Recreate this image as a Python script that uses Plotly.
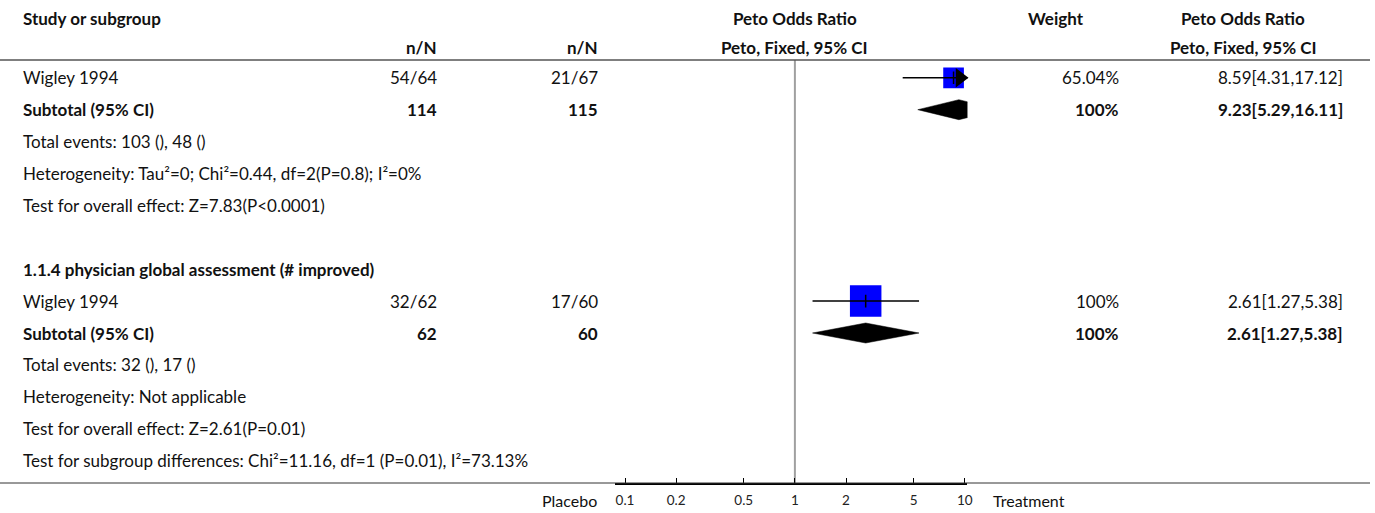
import plotly.graph_objects as go
import math

W, H = 1375, 513

# ---------------- data ----------------
group_titles = ["", "1.1.4 physician global assessment (# improved)"]
study_names = ["Wigley 1994", "Wigley 1994"]
study_treat = ["54/64", "32/62"]
study_ctrl = ["21/67", "17/60"]
study_weight = [65.04, 100.0]
study_or = [8.59, 2.61]
study_lo = [4.31, 1.27]
study_hi = [17.12, 5.38]

sub_treat = ["114", "62"]
sub_ctrl = ["115", "60"]
sub_weight = [100, 100]
sub_or = [9.23, 2.61]
sub_lo = [5.29, 1.27]
sub_hi = [16.11, 5.38]

total_events = ["Total events: 103 (), 48 ()", "Total events: 32 (), 17 ()"]
heterogeneity = ["Heterogeneity: Tau\u00b2=0; Chi\u00b2=0.44, df=2(P=0.8); I\u00b2=0%",
                 "Heterogeneity: Not applicable"]
overall_effect = ["Test for overall effect: Z=7.83(P<0.0001)",
                  "Test for overall effect: Z=2.61(P=0.01)"]
subgroup_diff = "Test for subgroup differences: Chi\u00b2=11.16, df=1 (P=0.01), I\u00b2=73.13%"

tick_vals = [0.1, 0.2, 0.5, 1, 2, 5, 10]
tick_text = ["0.1", "0.2", "0.5", "1", "2", "5", "10"]
left_label = "Placebo"
right_label = "Treatment"

# ---------------- layout constants ----------------
FONT = "Lato"
FS = 17
TXT = "#111111"
ROW_H = 31.9
ROW0_PX = 14.0
HDR1_PX, HDR2_PX = 18.0, 47.0
AXIS_PX = 483.0
HEADER_LINE_PX = 60.0
X_LEFT_PX, X_RIGHT_PX = 617.0, 971.0
ONE_PX = 797.8
PPD = 170.5  # pixels per decade

xmin_log = (X_LEFT_PX - ONE_PX) / PPD
xmax_log = (X_RIGHT_PX - ONE_PX) / PPD
y_top = -ROW0_PX / ROW_H
y_bot = (AXIS_PX - ROW0_PX) / ROW_H

COL_LEFT = 21
COL_T = 441
COL_C = 602
COL_W = 1125
COL_OR = 1350
HDR_W = 1060
HDR_OR = 1248

fig = go.Figure()
ann = []


def text(x_px, k, s, anchor="left", bold=False, size=FS):
    if bold:
        s = "<b>" + s + "</b>"
    ann.append(dict(x=x_px / W, xref="paper", y=k, yref="y", text=s,
                    xanchor=anchor, yanchor="middle", showarrow=False,
                    font=dict(family=FONT, size=size, color=TXT)))


# header
k_h1 = (HDR1_PX - ROW0_PX) / ROW_H
k_h2 = (HDR2_PX - ROW0_PX) / ROW_H
text(COL_LEFT, k_h1, "Study or subgroup", bold=True)
text(ONE_PX, k_h1, "Peto Odds Ratio", "center", True)
text(HDR_W, k_h1, "Weight", "center", True)
text(HDR_OR, k_h1, "Peto Odds Ratio", "center", True)
text(COL_T, k_h2, "n/N", "right", True)
text(COL_C, k_h2, "n/N", "right", True)
text(ONE_PX, k_h2, "Peto, Fixed, 95% CI", "center", True)
text(HDR_OR, k_h2, "Peto, Fixed, 95% CI", "center", True)


def fmt_ci(e, lo, hi):
    return f"{e:.2f}[{lo:.2f},{hi:.2f}]"


def fmt_w(w):
    return f"{w:.2f}%" if w != int(w) else f"{int(w)}%"


def add_ci_marks(k, e, lo, hi, w):
    fig.add_trace(go.Scatter(x=[e], y=[k], mode="markers",
                             marker=dict(symbol="square", size=31 * w / 100 + 0.5,
                                         color="#0000ff", line=dict(width=0)),
                             hoverinfo="skip"))
    fig.add_trace(go.Scatter(x=[lo, hi], y=[k, k], mode="lines",
                             line=dict(color="#000000", width=1.5), hoverinfo="skip"))
    if math.log10(e) < xmax_log:
        fig.add_trace(go.Scatter(x=[e], y=[k], mode="markers",
                                 marker=dict(symbol="line-ns", size=9,
                                             line=dict(color="#000000", width=1.5)),
                                 hoverinfo="skip"))
    if math.log10(hi) > xmax_log:
        fig.add_trace(go.Scatter(x=[10 ** (xmax_log - 7.5 / PPD)], y=[k], mode="markers",
                                 marker=dict(symbol="triangle-right", size=17,
                                             color="#000000", line=dict(width=0)),
                                 hoverinfo="skip", cliponaxis=False))


def add_diamond(k, e, lo, hi):
    h = 10.0 / ROW_H
    fig.add_trace(go.Scatter(x=[lo, e, hi, e, lo], y=[k, k - h, k, k + h, k],
                             mode="lines", fill="toself", fillcolor="#000000",
                             line=dict(color="#000000", width=0.5), hoverinfo="skip"))


k = 2
for g in range(len(study_names)):
    if group_titles[g]:
        text(COL_LEFT, k, group_titles[g], bold=True)
        k += 1
    text(COL_LEFT, k, study_names[g])
    text(COL_T, k, study_treat[g], "right")
    text(COL_C, k, study_ctrl[g], "right")
    text(COL_W, k, fmt_w(study_weight[g]), "right")
    text(COL_OR, k, fmt_ci(study_or[g], study_lo[g], study_hi[g]), "right")
    add_ci_marks(k, study_or[g], study_lo[g], study_hi[g], study_weight[g])
    k += 1
    text(COL_LEFT, k, "Subtotal (95% CI)", bold=True)
    text(COL_T, k, sub_treat[g], "right", True)
    text(COL_C, k, sub_ctrl[g], "right", True)
    text(COL_W, k, fmt_w(sub_weight[g]), "right", True)
    text(COL_OR, k, fmt_ci(sub_or[g], sub_lo[g], sub_hi[g]), "right", True)
    add_diamond(k, sub_or[g], sub_lo[g], sub_hi[g])
    k += 1
    for s in (total_events[g], heterogeneity[g], overall_effect[g]):
        text(COL_LEFT, k, s)
        k += 1
    if g < len(study_names) - 1:
        k += 1  # blank row
text(COL_LEFT, k, subgroup_diff)

for lbl, xp, anc in ((left_label, 601, "right"), (right_label, 995, "left")):
    ann.append(dict(x=xp / W, xref="paper", y=(H - 500) / H, yref="paper", text=lbl,
                    xanchor=anc, yanchor="middle", showarrow=False,
                    font=dict(family=FONT, size=16, color=TXT)))

shapes = [
    dict(type="line", xref="paper", yref="paper", x0=0, x1=1,
         y0=(H - HEADER_LINE_PX) / H, y1=(H - HEADER_LINE_PX) / H,
         line=dict(color="#555555", width=1.5)),
    dict(type="line", xref="paper", yref="paper", x0=0, x1=1,
         y0=(H - AXIS_PX) / H, y1=(H - AXIS_PX) / H,
         line=dict(color="#333333", width=1)),
    dict(type="line", xref="x", yref="paper", x0=1, x1=1,
         y0=(H - AXIS_PX) / H, y1=(H - HEADER_LINE_PX) / H,
         line=dict(color="#a0a0a0", width=2), layer="below"),
]

fig.update_layout(
    width=W, height=H, margin=dict(l=0, r=0, t=0, b=0),
    paper_bgcolor="white", plot_bgcolor="white", showlegend=False,
    annotations=ann, shapes=shapes,
    xaxis=dict(type="log", range=[xmin_log, xmax_log],
               domain=[X_LEFT_PX / W, X_RIGHT_PX / W],
               tickvals=tick_vals, ticktext=tick_text, ticks="inside", ticklen=5,
               tickcolor="#000000", tickwidth=1, showline=True, linecolor="#000000",
               linewidth=2, showgrid=False, zeroline=False, ticklabelstandoff=4,
               tickfont=dict(family=FONT, size=13.5, color="#222222"), fixedrange=True),
    yaxis=dict(range=[y_bot, y_top], domain=[(H - AXIS_PX) / H, 1], visible=False,
               showgrid=False, zeroline=False, fixedrange=True),
)

fig.write_html("out.html")
